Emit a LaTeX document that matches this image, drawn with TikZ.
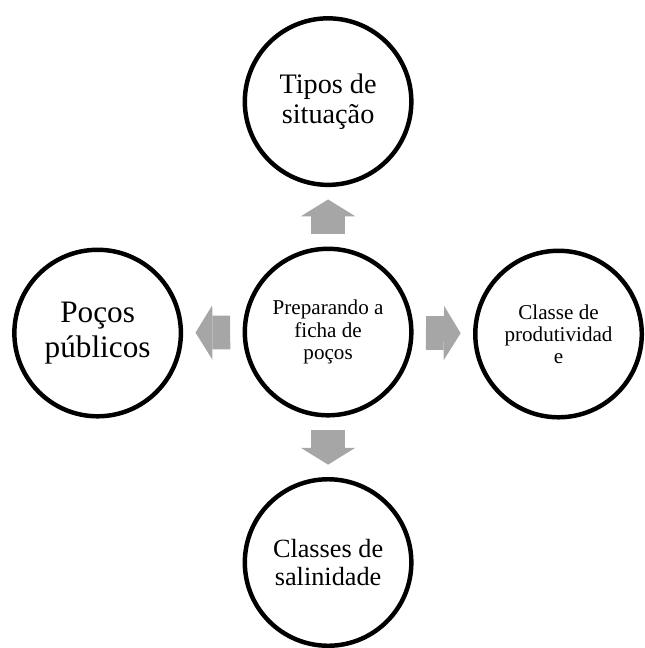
\documentclass[tikz,border=0pt]{standalone}
\usepackage{fontspec}
\setmainfont{Liberation Serif}
\usetikzlibrary{positioning, arrows.meta, calc}
\definecolor{arrowgray}{RGB}{166,166,166}
\tikzset{
  fichas/.style={
	node distance=232.5pt, % centre to centre of two circles
	bubble/.style={circle, draw=black, line width=4.5pt, minimum size=168pt, inner sep=0pt, align=center}, % the round boxes
	blockarrow/.style={draw=arrowgray, line width=34pt, -{Triangle[width=55pt, length=17pt, line width=0pt]}, shorten >=12.5pt, shorten <=12.5pt}, % the thick grey arrows
  }
}
\begin{document}
\begin{tikzpicture}[fichas]
\node[bubble, font=\fontsize{21.3}{23}\selectfont] (prep) {Preparando a\\ficha de\\poços};
\node[bubble, above of=prep, font=\fontsize{28.5}{30.5}\selectfont] (tipos) {Tipos de\\situação};
\node[bubble, left of=prep, yshift=-1pt, font=\fontsize{31.5}{35}\selectfont] (pocos) {Poços\\públicos};
\node[bubble, right of=prep, yshift=-2pt, font=\fontsize{21.3}{22}\selectfont] (classe) {Classe de\\produtividad\\e};
\node[bubble, below of=prep, font=\fontsize{26.5}{27.5}\selectfont] (salin) {Classes de\\salinidade};

\useasboundingbox ($(prep)+(-331pt,-313pt)$) rectangle ++(642pt,648pt);

\draw   (prep) edge[blockarrow] (tipos)
        (prep) edge[blockarrow] (pocos)
        (prep) edge[blockarrow] (classe)
        (prep) edge[blockarrow] (salin)
;
\end{tikzpicture}
\end{document}
